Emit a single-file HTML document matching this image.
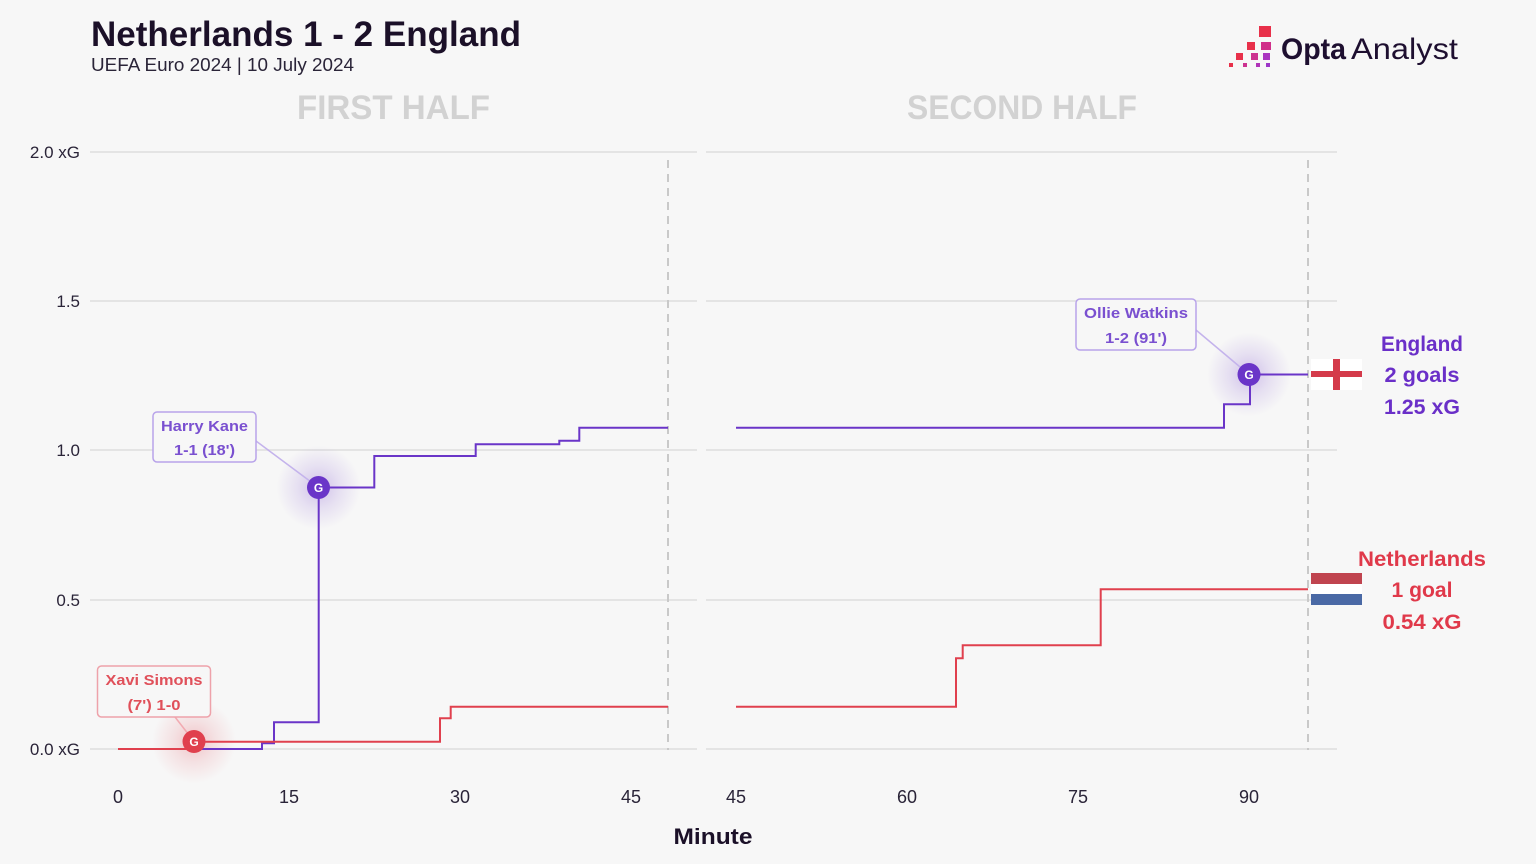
<!DOCTYPE html>
<html>
<head>
<meta charset="utf-8">
<style>
  html,body{margin:0;padding:0;background:#f7f7f7;}
  svg{display:block;}
  text{font-family:"Liberation Sans",sans-serif;}
</style>
</head>
<body>
<svg width="1536" height="864" viewBox="0 0 1536 864" xmlns="http://www.w3.org/2000/svg">
  <defs>
    <radialGradient id="gp" cx="50%" cy="50%" r="50%">
      <stop offset="0" stop-color="#6a35c8" stop-opacity="0.28"/>
      <stop offset="0.5" stop-color="#6a35c8" stop-opacity="0.12"/>
      <stop offset="1" stop-color="#6a35c8" stop-opacity="0"/>
    </radialGradient>
    <radialGradient id="gr" cx="50%" cy="50%" r="50%">
      <stop offset="0" stop-color="#e0404e" stop-opacity="0.28"/>
      <stop offset="0.5" stop-color="#e0404e" stop-opacity="0.12"/>
      <stop offset="1" stop-color="#e0404e" stop-opacity="0"/>
    </radialGradient>
  </defs>
  <rect width="1536" height="864" fill="#f7f7f7"/>

  <!-- Title -->
  <text x="91" y="46" font-size="35" font-weight="bold" fill="#1b1028" textLength="430" lengthAdjust="spacingAndGlyphs">Netherlands 1 - 2 England</text>
  <text x="91" y="71" font-size="18" fill="#2a2438" textLength="263" lengthAdjust="spacingAndGlyphs">UEFA Euro 2024 | 10 July 2024</text>

  <!-- Logo -->
  <g>
    <rect x="1259" y="26" width="12" height="11" fill="#e8304a"/>
    <rect x="1247" y="42" width="8" height="8" fill="#e8304a"/>
    <rect x="1261" y="42" width="10" height="8" fill="#d02f8a"/>
    <rect x="1236" y="53" width="7" height="7" fill="#e8304a"/>
    <rect x="1251" y="53" width="7" height="7" fill="#cc3290"/>
    <rect x="1263" y="53" width="7" height="7" fill="#a935c0"/>
    <rect x="1229" y="63" width="4" height="4" fill="#e8304a"/>
    <rect x="1243" y="63" width="4" height="4" fill="#cc3290"/>
    <rect x="1256" y="63" width="4" height="4" fill="#b033b8"/>
    <rect x="1266" y="63" width="4" height="4" fill="#9d36c8"/>
  </g>
  <text x="1281" y="59" font-size="30" font-weight="bold" fill="#1e0f30" textLength="65" lengthAdjust="spacingAndGlyphs">Opta</text>
  <text x="1351" y="59" font-size="30" fill="#1e0f30" textLength="107" lengthAdjust="spacingAndGlyphs">Analyst</text>

  <!-- Half titles -->
  <text x="297" y="119" font-size="34" font-weight="bold" fill="#d2d2d2" textLength="193" lengthAdjust="spacingAndGlyphs">FIRST HALF</text>
  <text x="907" y="119" font-size="34" font-weight="bold" fill="#d2d2d2" textLength="230" lengthAdjust="spacingAndGlyphs">SECOND HALF</text>

  <!-- Gridlines -->
  <g stroke="#e4e4e4" stroke-width="2">
    <line x1="90" y1="152" x2="697" y2="152"/>
    <line x1="90" y1="301" x2="697" y2="301"/>
    <line x1="90" y1="450" x2="697" y2="450"/>
    <line x1="90" y1="600" x2="697" y2="600"/>
    <line x1="90" y1="749" x2="697" y2="749"/>
    <line x1="706" y1="152" x2="1337" y2="152"/>
    <line x1="706" y1="301" x2="1337" y2="301"/>
    <line x1="706" y1="450" x2="1337" y2="450"/>
    <line x1="706" y1="600" x2="1337" y2="600"/>
    <line x1="706" y1="749" x2="1337" y2="749"/>
  </g>

  <!-- Dashed verticals -->
  <g stroke="#c9c9c9" stroke-width="2" stroke-dasharray="8 6">
    <line x1="668" y1="160" x2="668" y2="750"/>
    <line x1="1308" y1="160" x2="1308" y2="750"/>
  </g>

  <!-- Y labels -->
  <g font-size="17" fill="#2a2438" text-anchor="end">
    <text x="80" y="158">2.0 xG</text>
    <text x="80" y="307">1.5</text>
    <text x="80" y="456">1.0</text>
    <text x="80" y="606">0.5</text>
    <text x="80" y="755">0.0 xG</text>
  </g>

  <!-- X labels -->
  <g font-size="18" fill="#2a2438" text-anchor="middle">
    <text x="118" y="803">0</text>
    <text x="289" y="803">15</text>
    <text x="460" y="803">30</text>
    <text x="631" y="803">45</text>
    <text x="736" y="803">45</text>
    <text x="907" y="803">60</text>
    <text x="1078" y="803">75</text>
    <text x="1249" y="803">90</text>
  </g>
  <text x="713" y="844" font-size="22" font-weight="bold" fill="#1b1028" text-anchor="middle" textLength="79" lengthAdjust="spacingAndGlyphs">Minute</text>

  <!-- Glows -->
  <circle cx="318.5" cy="487.5" r="42" fill="url(#gp)"/>
  <circle cx="1249" cy="374.5" r="42" fill="url(#gp)"/>
  <circle cx="194" cy="741.5" r="42" fill="url(#gr)"/>

  <!-- Connectors -->
  <line x1="256" y1="441" x2="318.5" y2="487.5" stroke="#c4b3ec" stroke-width="1.5"/>
  <line x1="1196" y1="330" x2="1249" y2="374.5" stroke="#c4b3ec" stroke-width="1.5"/>
  <line x1="175" y1="717" x2="194" y2="741.5" stroke="#f2aab1" stroke-width="1.5"/>

  <!-- Series -->
  <g fill="none" stroke-width="2" stroke-linejoin="miter">
    <path d="M118,749 H262 V743.3 H274 V722.3 H318.7 V487.5 H374.3 V456 H475.7 V444.3 H559.3 V440.7 H579.3 V427.7 H668" stroke="#6a35c8"/>
    <path d="M736,427.7 H1224 V404.3 H1250 V374.5 H1308" stroke="#6a35c8"/>
    <path d="M118,749 H194 V741.7 H440 V718.3 H450.7 V706.7 H668" stroke="#e0404e"/>
    <path d="M736,706.7 H956 V658.3 H962.7 V645.3 H1100.7 V589.3 H1308" stroke="#e0404e"/>
  </g>

  <!-- Goal markers -->
  <g font-size="12" font-weight="bold" fill="#ffffff" text-anchor="middle">
    <circle cx="318.5" cy="487.5" r="11.5" fill="#6a35c8"/>
    <text x="318.5" y="492" fill="#fff">G</text>
    <circle cx="1249" cy="374.5" r="11.5" fill="#6a35c8"/>
    <text x="1249" y="379" fill="#fff">G</text>
    <circle cx="194" cy="741.5" r="11.5" fill="#e0404e"/>
    <text x="194" y="746" fill="#fff">G</text>
  </g>

  <!-- Annotation boxes -->
  <rect x="153" y="412" width="103" height="50" rx="4" fill="#f7f7f7" stroke="#b8a3ea" stroke-width="1.5"/>
  <text x="204.5" y="431" font-size="15" font-weight="bold" fill="#7a50d0" text-anchor="middle" textLength="87" lengthAdjust="spacingAndGlyphs">Harry Kane</text>
  <text x="204.5" y="455" font-size="15" font-weight="bold" fill="#7a50d0" text-anchor="middle" textLength="61" lengthAdjust="spacingAndGlyphs">1-1 (18')</text>

  <rect x="1076" y="299" width="120" height="51" rx="4" fill="#f7f7f7" stroke="#b8a3ea" stroke-width="1.5"/>
  <text x="1136" y="318" font-size="15" font-weight="bold" fill="#7a50d0" text-anchor="middle" textLength="104" lengthAdjust="spacingAndGlyphs">Ollie Watkins</text>
  <text x="1136" y="343" font-size="15" font-weight="bold" fill="#7a50d0" text-anchor="middle" textLength="62" lengthAdjust="spacingAndGlyphs">1-2 (91')</text>

  <rect x="97.5" y="666" width="113" height="51" rx="4" fill="#f7f7f7" stroke="#eea2aa" stroke-width="1.5"/>
  <text x="154" y="685" font-size="15" font-weight="bold" fill="#e0505a" text-anchor="middle" textLength="97" lengthAdjust="spacingAndGlyphs">Xavi Simons</text>
  <text x="154" y="710" font-size="15" font-weight="bold" fill="#e0505a" text-anchor="middle" textLength="53" lengthAdjust="spacingAndGlyphs">(7') 1-0</text>

  <!-- Flags -->
  <rect x="1311" y="359" width="51" height="31" fill="#ffffff"/>
  <rect x="1333" y="359" width="7" height="31" fill="#d43a4a"/>
  <rect x="1311" y="371" width="51" height="6" fill="#d43a4a"/>

  <rect x="1311" y="573" width="51" height="11" fill="#c0444f"/>
  <rect x="1311" y="584" width="51" height="10" fill="#ffffff"/>
  <rect x="1311" y="594" width="51" height="11" fill="#4a69a5"/>

  <!-- Right labels -->
  <g font-size="21" font-weight="bold" text-anchor="middle">
    <text x="1422" y="351" fill="#6a2fc8" textLength="82" lengthAdjust="spacingAndGlyphs">England</text>
    <text x="1422" y="382" fill="#6a2fc8" textLength="75" lengthAdjust="spacingAndGlyphs">2 goals</text>
    <text x="1422" y="414" fill="#6a2fc8" textLength="76" lengthAdjust="spacingAndGlyphs">1.25 xG</text>
    <text x="1422" y="566" fill="#e0394a" textLength="128" lengthAdjust="spacingAndGlyphs">Netherlands</text>
    <text x="1422" y="597" fill="#e0394a" textLength="61" lengthAdjust="spacingAndGlyphs">1 goal</text>
    <text x="1422" y="629" fill="#e0394a" textLength="79" lengthAdjust="spacingAndGlyphs">0.54 xG</text>
  </g>
</svg>
</body>
</html>
